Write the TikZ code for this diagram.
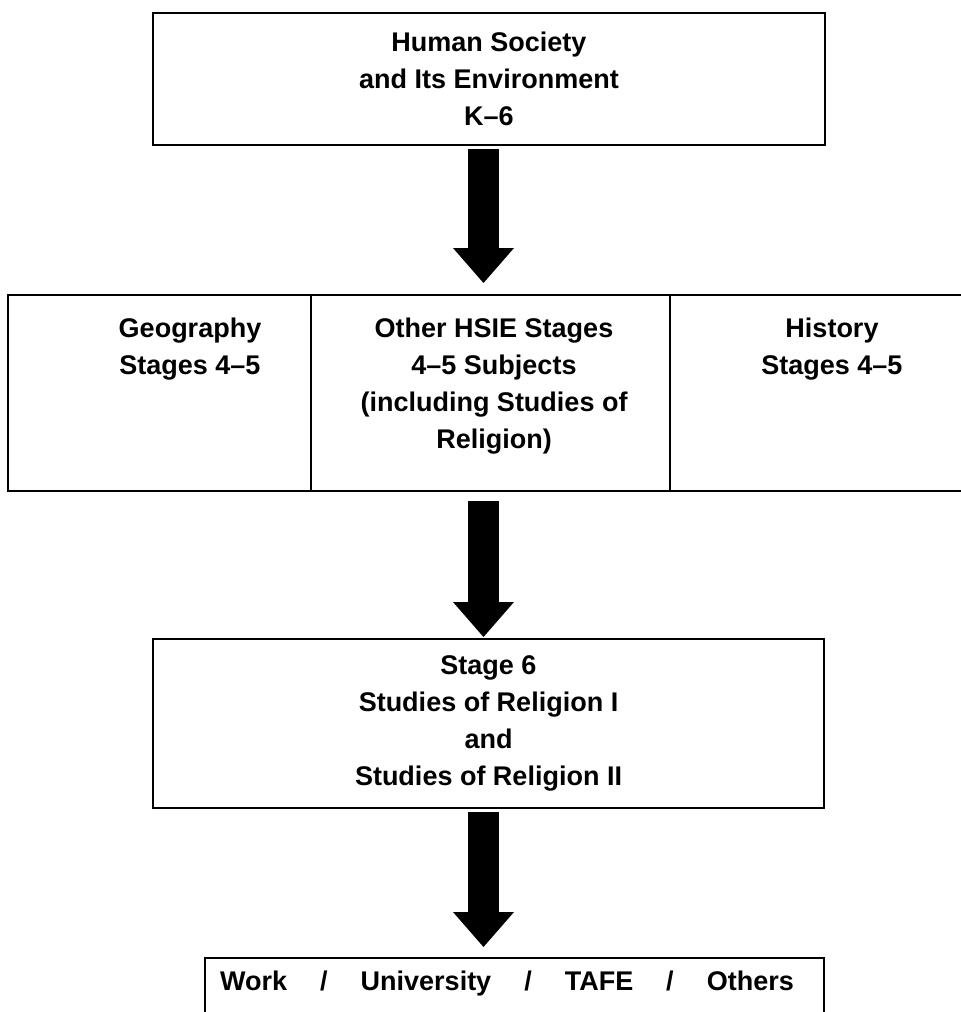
\documentclass[tikz,border=0pt]{standalone}
\usepackage{fontspec}
\setmainfont{Liberation Sans}
\usetikzlibrary{arrows.meta,positioning}

\begin{document}
\begin{tikzpicture}[
  x=1pt,y=-1pt,
  every node/.style={font=\bfseries\fontsize{27}{37}\selectfont},
  box/.style={draw,line width=2pt,align=center,inner sep=0pt},
  cell/.style={draw,line width=2pt,minimum height=196pt,inner sep=0pt,outer sep=0pt},
  txt/.style={align=center,inner sep=0pt},
  bigarrow/.style={line width=31pt,-{Triangle[length=35pt,width=61pt,line width=0pt]}}
]
\useasboundingbox (0,0) rectangle (961,1012);
% top box
\node[box,minimum width=672pt,minimum height=132pt] (hsie) at (489,79)
  {Human Society\\and Its Environment\\K--6};
% middle row of three subjects
\node[cell,minimum width=303pt] (geo) at (159.5,393) {};
\node[cell,minimum width=359pt,right=0pt of geo] (other) {};
\node[cell,minimum width=330pt,right=0pt of other] (hist) {};
\node[txt] (geotxt) at (190,349) {Geography\\Stages 4--5};
\node[txt] (othertxt) at (494,386) {Other HSIE Stages\\4--5 Subjects\\(including Studies of\\Religion)};
\node[txt] (histtxt) at (832,349) {History\\Stages 4--5};
% stage 6
\node[box,minimum width=671pt,minimum height=169pt] (stage) at (488.5,723.5)
  {Stage 6\\Studies of Religion I\\and\\Studies of Religion II};
% pathways
\node[box,minimum width=619pt,minimum height=100pt,anchor=north] (post) at (514.5,957) {};
\node[txt] (posttxt) at (507,984)
  {Work\hspace{33pt}/\hspace{33pt}University\hspace{33pt}/\hspace{33pt}TAFE\hspace{33pt}/\hspace{33pt}Others};
\draw[bigarrow] ([xshift=-5.5pt,yshift=-3pt]hsie.south) -- ([xshift=-7pt,yshift=12pt]other.north);
\draw[bigarrow] ([xshift=-7pt,yshift=-10pt]other.south) -- ([xshift=-5pt,yshift=1pt]stage.north);
\draw[bigarrow] ([xshift=-5pt,yshift=-3pt]stage.south) -- ([xshift=-31pt,yshift=10pt]post.north);
\end{tikzpicture}
\end{document}
